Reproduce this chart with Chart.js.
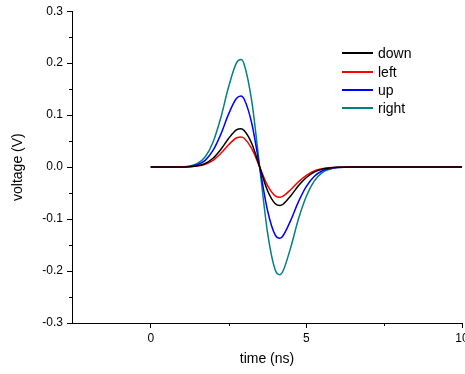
<!DOCTYPE html>
<html>
<head>
<meta charset="utf-8">
<script src="https://cdn.jsdelivr.net/npm/chart.js@4"></script>
<style>
  html, body { margin: 0; padding: 0; background: #fff; }
  #wrap { position: relative; width: 465px; height: 374px; }
  #legend { position: absolute; left: 342px; top: 44px; font: 14px "Liberation Sans", Arial, sans-serif; color: #000; }
  .row { height: 18.4px; display: flex; align-items: center; }
  .swatch { width: 31px; height: 2px; margin-right: 5px; }
</style>
</head>
<body>
<div id="wrap">
  <canvas id="myChart" width="465" height="374"></canvas>
  <div id="legend"></div>
</div>
<script>
// time axis samples (ns)
const times = [0, 0.5, 1.0, 1.25, 1.5, 1.75, 2.0, 2.25, 2.5, 2.75, 2.9, 3.0, 3.25, 3.5, 3.75, 4.0, 4.15, 4.25, 4.5, 4.75, 5.0, 5.25, 5.5, 5.75, 6.0, 6.5, 7, 8, 9, 10];

// voltage (V) per direction
const down = [0, 0, 0.0002, 0.0007, 0.0025, 0.007, 0.017, 0.034, 0.055, 0.0715, 0.074, 0.0705, 0.045, 0, -0.045, -0.0705, -0.074, -0.0715, -0.055, -0.0355, -0.02, -0.0096, -0.004, -0.0015, -0.0004, 0, 0, 0, 0, 0];
const left = [0, 0, 0.0001, 0.0006, 0.002, 0.0056, 0.013, 0.0265, 0.043, 0.056, 0.058, 0.0554, 0.035, 0, -0.035, -0.0554, -0.058, -0.056, -0.043, -0.028, -0.0157, -0.0075, -0.0032, -0.0012, -0.0003, 0, 0, 0, 0, 0];
const up = [0, 0, 0.0003, 0.0014, 0.0047, 0.013, 0.032, 0.063, 0.102, 0.132, 0.137, 0.131, 0.083, 0, -0.083, -0.131, -0.137, -0.132, -0.102, -0.066, -0.037, -0.018, -0.0075, -0.003, -0.001, 0, 0, 0, 0, 0];
const right = [0, 0, 0.0005, 0.002, 0.007, 0.020, 0.048, 0.095, 0.154, 0.200, 0.207, 0.198, 0.125, 0, -0.125, -0.198, -0.207, -0.200, -0.154, -0.099, -0.056, -0.027, -0.011, -0.004, -0.001, 0, 0, 0, 0, 0];

const seriesNames = ['down', 'left', 'up', 'right'];
const seriesData = [down, left, up, right];
const seriesColors = ['#000000', '#ff0000', '#0000ff', '#008080'];

const xTicks = [0, 5, 10];
const xMinorTicks = [2.5, 7.5];
const yMinorTicks = [-0.25, -0.15, -0.05, 0.05, 0.15, 0.25];

const FONT = '"Liberation Sans", Arial, sans-serif';

const minorTicks = {
    id: 'minorTicks',
    afterDraw(chart) {
        const c = chart.ctx;
        const xs = chart.scales.x, ys = chart.scales.y;
        c.save();
        c.strokeStyle = '#000';
        c.lineWidth = 1;
        c.beginPath();
        yMinorTicks.forEach(v => {
            const py = Math.round(ys.getPixelForValue(v)) + 0.5;
            c.moveTo(xs.left - 3, py);
            c.lineTo(xs.left, py);
        });
        xMinorTicks.forEach(v => {
            const px = Math.round(xs.getPixelForValue(v)) + 0.5;
            c.moveTo(px, ys.bottom);
            c.lineTo(px, ys.bottom + 3);
        });
        c.stroke();
        c.restore();
    }
};

const ctx = document.getElementById('myChart');

new Chart(ctx, {
    type: 'line',
    data: {
        datasets: seriesNames.map((name, i) => ({
            label: name,
            data: times.map((t, j) => ({ x: t, y: seriesData[i][j] })),
            borderColor: seriesColors[i],
            borderWidth: 1.5,
            pointRadius: 0,
            fill: false,
            cubicInterpolationMode: 'monotone'
        }))
    },
    options: {
        responsive: false,
        animation: false,
        layout: { padding: { top: 11, right: 3, left: 0, bottom: 0 } },
        plugins: {
            legend: { display: false },
            tooltip: { enabled: false }
        },
        scales: {
            x: {
                type: 'linear',
                min: -2.53,
                max: 10,
                afterBuildTicks: s => { s.ticks = xTicks.map(v => ({ value: v })); },
                afterFit: s => { s.height = 51; s.paddingLeft = 0; s.paddingRight = 0; },
                grid: { drawOnChartArea: false, tickLength: 5, color: '#000' },
                border: { display: true, color: '#000', width: 1 },
                ticks: { color: '#000', font: { family: FONT, size: 12 }, padding: 3, maxRotation: 0 },
                title: { display: true, text: 'time (ns)', color: '#000', font: { family: FONT, size: 14 }, padding: { top: 0, bottom: 6 } }
            },
            y: {
                min: -0.3,
                max: 0.3,
                afterFit: s => { s.width = 72; },
                grid: { drawOnChartArea: false, tickLength: 5, color: '#000' },
                border: { display: true, color: '#000', width: 1 },
                ticks: { stepSize: 0.1, color: '#000', font: { family: FONT, size: 12 }, padding: 4, callback: v => v.toFixed(1) },
                title: { display: true, text: 'voltage (V)', color: '#000', font: { family: FONT, size: 14 }, padding: { top: 10, bottom: 0 } }
            }
        }
    },
    plugins: [minorTicks]
});

const legendEl = document.getElementById('legend');
seriesNames.forEach((name, i) => {
    const row = document.createElement('div');
    row.className = 'row';
    const sw = document.createElement('span');
    sw.className = 'swatch';
    sw.style.background = seriesColors[i];
    const label = document.createElement('span');
    label.textContent = name;
    row.appendChild(sw);
    row.appendChild(label);
    legendEl.appendChild(row);
});
</script>
</body>
</html>
